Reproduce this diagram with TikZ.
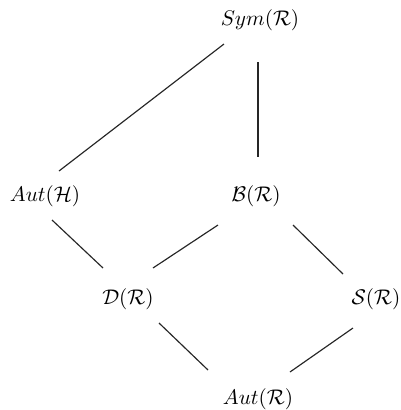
\documentclass[tikz,border=0pt]{standalone}
\usetikzlibrary{calc}
\begin{document}
\begin{tikzpicture}[x=0.472pt,y=-0.472pt,
  obj/.style={inner sep=0pt},
  edge/.style={line width=0.55pt, draw=black!85}]
\useasboundingbox (0,0) rectangle (401,410);

% lattice elements
\node[obj] (sym)  at (260,20)  {$Sym(\mathcal{R})$};
\node[obj] (auth) at (45,196)  {$Aut(\mathcal{H})$};
\node[obj] (bR)   at (256,196) {$\mathcal{B}(\mathcal{R})$};
\node[obj] (dR)   at (128,299) {$\mathcal{D}(\mathcal{R})$};
\node[obj] (sR)   at (376,299) {$\mathcal{S}(\mathcal{R})$};
\node[obj] (autr) at (258,399) {$Aut(\mathcal{R})$};

% inclusions
\draw[edge] ($(sym)+(-36,24)$) -- ($(auth)+(14,-25)$);
\draw[edge] ($(sym)+(-2,42)$)  -- ($(bR)+(2,-39)$);
\draw[edge] ($(auth)+(7,24)$)  -- ($(dR)+(-25,-31)$);
\draw[edge] ($(bR)+(-38,29)$)  -- ($(dR)+(25,-31)$);
\draw[edge] ($(bR)+(37,29)$)   -- ($(sR)+(-33,-25)$);
\draw[edge] ($(dR)+(31,24)$)   -- ($(autr)+(-50,-29)$);
\draw[edge] ($(sR)+(-23,29)$)  -- ($(autr)+(32,-27)$);
\end{tikzpicture}
\end{document}
